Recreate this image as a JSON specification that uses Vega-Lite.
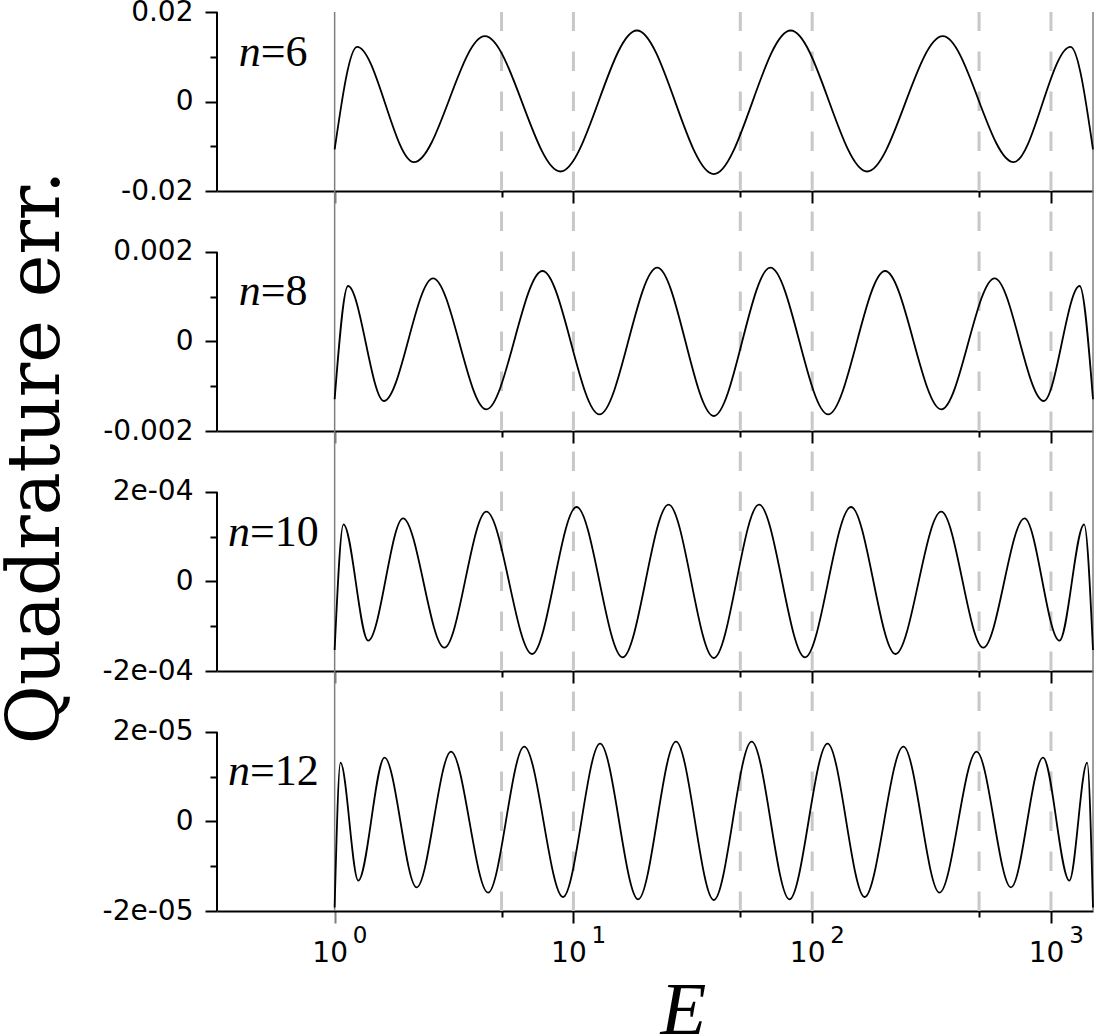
{
  "$schema": "https://vega.github.io/schema/vega-lite/v6.json",
  "background": "white",
  "padding": {"left": 0, "top": -2, "right": 0, "bottom": 0},
  "config": {"view": {"stroke": null}},
  "datasets": {
    "curves": [
      {"n": 6, "E": 1, "err": -0.0107},
      {"n": 6, "E": 1.2416, "err": 0.01222},
      {"n": 6, "E": 2.1478, "err": -0.01356},
      {"n": 6, "E": 4.256, "err": 0.01459},
      {"n": 6, "E": 8.8308, "err": -0.01564},
      {"n": 6, "E": 18.45, "err": 0.01587},
      {"n": 6, "E": 38.73, "err": -0.01624},
      {"n": 6, "E": 81.28, "err": 0.01587},
      {"n": 6, "E": 169.8, "err": -0.01564},
      {"n": 6, "E": 352.4, "err": 0.01459},
      {"n": 6, "E": 698.2, "err": -0.01356},
      {"n": 6, "E": 1207.8, "err": 0.01222},
      {"n": 6, "E": 1500, "err": -0.0107},
      {"n": 8, "E": 1, "err": -0.00129},
      {"n": 8, "E": 1.1376, "err": 0.00124},
      {"n": 8, "E": 1.6069, "err": -0.00133},
      {"n": 8, "E": 2.5823, "err": 0.001412},
      {"n": 8, "E": 4.3152, "err": -0.001516},
      {"n": 8, "E": 7.4216, "err": 0.001575},
      {"n": 8, "E": 12.853, "err": -0.001628},
      {"n": 8, "E": 22.439, "err": 0.00165},
      {"n": 8, "E": 38.73, "err": -0.001665},
      {"n": 8, "E": 66.83, "err": 0.00165},
      {"n": 8, "E": 116.68, "err": -0.001628},
      {"n": 8, "E": 202.1, "err": 0.001575},
      {"n": 8, "E": 347.5, "err": -0.001516},
      {"n": 8, "E": 580.8, "err": 0.001412},
      {"n": 8, "E": 933.3, "err": -0.00133},
      {"n": 8, "E": 1318.3, "err": 0.00124},
      {"n": 8, "E": 1500, "err": -0.00129},
      {"n": 10, "E": 1, "err": -1.53e-4},
      {"n": 10, "E": 1.0889, "err": 1.278e-4},
      {"n": 10, "E": 1.382, "err": -1.322e-4},
      {"n": 10, "E": 1.9341, "err": 1.412e-4},
      {"n": 10, "E": 2.8801, "err": -1.479e-4},
      {"n": 10, "E": 4.3202, "err": 1.56e-4},
      {"n": 10, "E": 6.7146, "err": -1.62e-4},
      {"n": 10, "E": 10.311, "err": 1.665e-4},
      {"n": 10, "E": 16.069, "err": -1.694e-4},
      {"n": 10, "E": 25.032, "err": 1.717e-4},
      {"n": 10, "E": 38.73, "err": -1.709e-4},
      {"n": 10, "E": 59.91, "err": 1.717e-4},
      {"n": 10, "E": 93.33, "err": -1.694e-4},
      {"n": 10, "E": 145.45, "err": 1.665e-4},
      {"n": 10, "E": 223.3, "err": -1.62e-4},
      {"n": 10, "E": 347.1, "err": 1.56e-4},
      {"n": 10, "E": 520.7, "err": -1.479e-4},
      {"n": 10, "E": 775.4, "err": 1.412e-4},
      {"n": 10, "E": 1085.2, "err": -1.322e-4},
      {"n": 10, "E": 1377.2, "err": 1.278e-4},
      {"n": 10, "E": 1500, "err": -1.53e-4},
      {"n": 12, "E": 1, "err": -1.92e-5},
      {"n": 12, "E": 1.058, "err": 1.315e-5},
      {"n": 12, "E": 1.256, "err": -1.322e-5},
      {"n": 12, "E": 1.6181, "err": 1.426e-5},
      {"n": 12, "E": 2.2055, "err": -1.471e-5},
      {"n": 12, "E": 3.0718, "err": 1.56e-5},
      {"n": 12, "E": 4.3924, "err": -1.59e-5},
      {"n": 12, "E": 6.223, "err": 1.672e-5},
      {"n": 12, "E": 9.0448, "err": -1.687e-5},
      {"n": 12, "E": 12.933, "err": 1.739e-5},
      {"n": 12, "E": 18.672, "err": -1.739e-5},
      {"n": 12, "E": 26.891, "err": 1.784e-5},
      {"n": 12, "E": 38.73, "err": -1.754e-5},
      {"n": 12, "E": 55.77, "err": 1.784e-5},
      {"n": 12, "E": 80.32, "err": -1.739e-5},
      {"n": 12, "E": 115.96, "err": 1.739e-5},
      {"n": 12, "E": 165.81, "err": -1.687e-5},
      {"n": 12, "E": 241.0, "err": 1.672e-5},
      {"n": 12, "E": 341.4, "err": -1.59e-5},
      {"n": 12, "E": 488.2, "err": 1.56e-5},
      {"n": 12, "E": 680.0, "err": -1.471e-5},
      {"n": 12, "E": 926.8, "err": 1.426e-5},
      {"n": 12, "E": 1194.0, "err": -1.322e-5},
      {"n": 12, "E": 1417.5, "err": 1.315e-5},
      {"n": 12, "E": 1500, "err": -1.92e-5}
    ],
    "dashed": [{"E": 5}, {"E": 10}, {"E": 50}, {"E": 100}, {"E": 500}, {"E": 1000}],
    "solid": [{"E": 1}, {"E": 1500}],
    "labels": [
      {"n": 6, "sym": "n", "rel": "=6"},
      {"n": 8, "sym": "n", "rel": "=8"},
      {"n": 10, "sym": "n", "rel": "=10"},
      {"n": 12, "sym": "n", "rel": "=12"}
    ],
    "spine": [{"part": "y spine"}]
  },
  "vconcat": [
    {
      "width": 876, "height": 179,
      "resolve": {"axis": {"x": "independent", "y": "independent"}},
      "layer": [
        {"data": {"name": "dashed"}, "mark": {"type": "rule", "color": "#c8c8c8", "strokeWidth": 3, "strokeDash": [19.5, 20.5]},
         "encoding": {"x": {"field": "E", "type": "quantitative", "scale": {"type": "log", "domain": [0.3216, 1500], "nice": false}, "axis": null},
                      "y": {"datum": -0.02, "type": "quantitative", "scale": {"domain": [-0.02, 0.02], "nice": false, "zero": false}, "axis": null}, "y2": {"datum": 0.02}}},
        {"data": {"name": "solid"}, "mark": {"type": "rule", "color": "#7f7f7f", "strokeWidth": 1.5},
         "encoding": {"x": {"field": "E", "type": "quantitative", "scale": {"type": "log", "domain": [0.3216, 1500], "nice": false}, "axis": null},
                      "y": {"datum": -0.02, "type": "quantitative", "axis": null}, "y2": {"datum": 0.02}}},
        {"data": {"name": "curves"}, "transform": [{"filter": "datum.n == 6"}],
         "mark": {"type": "line", "color": "black", "strokeWidth": 1.8, "interpolate": "monotone"},
         "encoding": {
           "x": {"field": "E", "type": "quantitative", "scale": {"type": "log", "domain": [0.3216, 1500], "nice": false},
                 "axis": {"orient": "bottom", "values": [1, 5, 10, 50, 100, 500, 1000], "labels": false, "title": null, "grid": false, "domainColor": "black", "domainWidth": 2, "tickWidth": 2,
                          "tickColor": {"condition": {"test": "datum.value == 1", "value": "#7f7f7f"}, "value": "black"},
                          "tickSize": {"condition": {"test": "datum.value == 5 || datum.value == 50 || datum.value == 500", "value": 6}, "value": 12}}},
           "y": {"field": "err", "type": "quantitative", "scale": {"domain": [-0.02, 0.02], "nice": false, "zero": false},
                 "axis": {"orient": "left", "values": [-0.02, -0.01, 0, 0.01, 0.02], "labelExpr": "datum.value == 0 ? '0' : datum.value > 0.015 ? '0.02' : datum.value < -0.015 ? '-0.02' : ''",
                          "domain": false, "grid": false, "tickColor": "black", "tickWidth": 2,
                          "tickSize": {"condition": {"test": "datum.value != 0 && abs(datum.value) < 0.015", "value": 7}, "value": 12},
                          "labelFont": "DejaVu Sans", "labelFontSize": 28, "labelColor": "black", "labelPadding": 12, "labelOverlap": false, "labelBound": false, "labelFlush": false,
                          "title": "Quadrature err.", "titleFont": "DejaVu Serif", "titleFontSize": 72, "titleFontWeight": "normal", "titleColor": "black",
                          "titleAngle": 270, "titleBaseline": "alphabetic", "titleAlign": "center", "titleX": -158.1, "titleY": 445}}}},
        {"data": {"name": "spine"}, "mark": {"type": "rule", "color": "black", "strokeWidth": 2},
         "encoding": {"x": {"datum": 0.3216, "type": "quantitative", "axis": null}, "y": {"datum": -0.02, "type": "quantitative", "axis": null}, "y2": {"datum": 0.02}}},
        {"data": {"name": "labels"}, "transform": [{"filter": "datum.n == 6"}],
         "mark": {"type": "text", "font": "Liberation Serif", "fontSize": 44, "fontStyle": "italic", "align": "right", "baseline": "alphabetic", "color": "black"},
         "encoding": {"x": {"datum": 0.4906, "type": "quantitative", "axis": null}, "y": {"datum": 0.00789, "type": "quantitative", "axis": null}, "text": {"field": "sym"}}},
        {"data": {"name": "labels"}, "transform": [{"filter": "datum.n == 6"}],
         "mark": {"type": "text", "font": "Liberation Serif", "fontSize": 44, "align": "left", "baseline": "alphabetic", "color": "black"},
         "encoding": {"x": {"datum": 0.4906, "type": "quantitative", "axis": null}, "y": {"datum": 0.00789, "type": "quantitative", "axis": null}, "text": {"field": "rel"}}}
      ]
    },
    {
      "width": 876, "height": 240,
      "resolve": {"axis": {"x": "independent", "y": "independent"}},
      "layer": [
        {"data": {"name": "dashed"}, "mark": {"type": "rule", "color": "#c8c8c8", "strokeWidth": 3, "strokeDash": [19.5, 20.5]},
         "encoding": {"x": {"field": "E", "type": "quantitative", "scale": {"type": "log", "domain": [0.3216, 1500], "nice": false}, "axis": null},
                      "y": {"datum": -0.002, "type": "quantitative", "scale": {"domain": [-0.002, 0.003363], "nice": false, "zero": false}, "axis": null}, "y2": {"datum": 0.003363}}},
        {"data": {"name": "solid"}, "mark": {"type": "rule", "color": "#7f7f7f", "strokeWidth": 1.5},
         "encoding": {"x": {"field": "E", "type": "quantitative", "scale": {"type": "log", "domain": [0.3216, 1500], "nice": false}, "axis": null},
                      "y": {"datum": -0.002, "type": "quantitative", "axis": null}, "y2": {"datum": 0.003363}}},
        {"data": {"name": "curves"}, "transform": [{"filter": "datum.n == 8"}],
         "mark": {"type": "line", "color": "black", "strokeWidth": 1.8, "interpolate": "monotone"},
         "encoding": {
           "x": {"field": "E", "type": "quantitative", "scale": {"type": "log", "domain": [0.3216, 1500], "nice": false},
                 "axis": {"orient": "bottom", "values": [1, 5, 10, 50, 100, 500, 1000], "labels": false, "title": null, "grid": false, "domainColor": "black", "domainWidth": 2, "tickWidth": 2,
                          "tickColor": {"condition": {"test": "datum.value == 1", "value": "#7f7f7f"}, "value": "black"},
                          "tickSize": {"condition": {"test": "datum.value == 5 || datum.value == 50 || datum.value == 500", "value": 6}, "value": 12}}},
           "y": {"field": "err", "type": "quantitative", "scale": {"domain": [-0.002, 0.003363], "nice": false, "zero": false},
                 "axis": {"orient": "left", "values": [-0.002, -0.001, 0, 0.001, 0.002], "labelExpr": "datum.value == 0 ? '0' : datum.value > 0.0015 ? '0.002' : datum.value < -0.0015 ? '-0.002' : ''",
                          "domain": false, "grid": false, "tickColor": "black", "tickWidth": 2,
                          "tickSize": {"condition": {"test": "datum.value != 0 && abs(datum.value) < 0.0015", "value": 7}, "value": 12},
                          "labelFont": "DejaVu Sans", "labelFontSize": 28, "labelColor": "black", "labelPadding": 12, "labelOverlap": false, "labelBound": false, "labelFlush": false, "title": null}}}},
        {"data": {"name": "spine"}, "mark": {"type": "rule", "color": "black", "strokeWidth": 2},
         "encoding": {"x": {"datum": 0.3216, "type": "quantitative", "axis": null}, "y": {"datum": -0.002, "type": "quantitative", "axis": null}, "y2": {"datum": 0.002}}},
        {"data": {"name": "labels"}, "transform": [{"filter": "datum.n == 8"}],
         "mark": {"type": "text", "font": "Liberation Serif", "fontSize": 44, "fontStyle": "italic", "align": "right", "baseline": "alphabetic", "color": "black"},
         "encoding": {"x": {"datum": 0.4906, "type": "quantitative", "axis": null}, "y": {"datum": 0.000816, "type": "quantitative", "axis": null}, "text": {"field": "sym"}}},
        {"data": {"name": "labels"}, "transform": [{"filter": "datum.n == 8"}],
         "mark": {"type": "text", "font": "Liberation Serif", "fontSize": 44, "align": "left", "baseline": "alphabetic", "color": "black"},
         "encoding": {"x": {"datum": 0.4906, "type": "quantitative", "axis": null}, "y": {"datum": 0.000816, "type": "quantitative", "axis": null}, "text": {"field": "rel"}}}
      ]
    },
    {
      "width": 876, "height": 240,
      "resolve": {"axis": {"x": "independent", "y": "independent"}},
      "layer": [
        {"data": {"name": "dashed"}, "mark": {"type": "rule", "color": "#c8c8c8", "strokeWidth": 3, "strokeDash": [19.5, 20.5]},
         "encoding": {"x": {"field": "E", "type": "quantitative", "scale": {"type": "log", "domain": [0.3216, 1500], "nice": false}, "axis": null},
                      "y": {"datum": -0.0002, "type": "quantitative", "scale": {"domain": [-0.0002, 0.0003363], "nice": false, "zero": false}, "axis": null}, "y2": {"datum": 0.0003363}}},
        {"data": {"name": "solid"}, "mark": {"type": "rule", "color": "#7f7f7f", "strokeWidth": 1.5},
         "encoding": {"x": {"field": "E", "type": "quantitative", "scale": {"type": "log", "domain": [0.3216, 1500], "nice": false}, "axis": null},
                      "y": {"datum": -0.0002, "type": "quantitative", "axis": null}, "y2": {"datum": 0.0003363}}},
        {"data": {"name": "curves"}, "transform": [{"filter": "datum.n == 10"}],
         "mark": {"type": "line", "color": "black", "strokeWidth": 1.8, "interpolate": "monotone"},
         "encoding": {
           "x": {"field": "E", "type": "quantitative", "scale": {"type": "log", "domain": [0.3216, 1500], "nice": false},
                 "axis": {"orient": "bottom", "values": [1, 5, 10, 50, 100, 500, 1000], "labels": false, "title": null, "grid": false, "domainColor": "black", "domainWidth": 2, "tickWidth": 2,
                          "tickColor": {"condition": {"test": "datum.value == 1", "value": "#7f7f7f"}, "value": "black"},
                          "tickSize": {"condition": {"test": "datum.value == 5 || datum.value == 50 || datum.value == 500", "value": 6}, "value": 12}}},
           "y": {"field": "err", "type": "quantitative", "scale": {"domain": [-0.0002, 0.0003363], "nice": false, "zero": false},
                 "axis": {"orient": "left", "values": [-0.0002, -0.0001, 0, 0.0001, 0.0002], "labelExpr": "datum.value == 0 ? '0' : datum.value > 0.00015 ? '2e-04' : datum.value < -0.00015 ? '-2e-04' : ''",
                          "domain": false, "grid": false, "tickColor": "black", "tickWidth": 2,
                          "tickSize": {"condition": {"test": "datum.value != 0 && abs(datum.value) < 0.00015", "value": 7}, "value": 12},
                          "labelFont": "DejaVu Sans", "labelFontSize": 28, "labelColor": "black", "labelPadding": 12, "labelOverlap": false, "labelBound": false, "labelFlush": false, "title": null}}}},
        {"data": {"name": "spine"}, "mark": {"type": "rule", "color": "black", "strokeWidth": 2},
         "encoding": {"x": {"datum": 0.3216, "type": "quantitative", "axis": null}, "y": {"datum": -0.0002, "type": "quantitative", "axis": null}, "y2": {"datum": 0.0002}}},
        {"data": {"name": "labels"}, "transform": [{"filter": "datum.n == 10"}],
         "mark": {"type": "text", "font": "Liberation Serif", "fontSize": 44, "fontStyle": "italic", "align": "right", "baseline": "alphabetic", "color": "black"},
         "encoding": {"x": {"datum": 0.4416, "type": "quantitative", "axis": null}, "y": {"datum": 0.0000800, "type": "quantitative", "axis": null}, "text": {"field": "sym"}}},
        {"data": {"name": "labels"}, "transform": [{"filter": "datum.n == 10"}],
         "mark": {"type": "text", "font": "Liberation Serif", "fontSize": 44, "align": "left", "baseline": "alphabetic", "color": "black"},
         "encoding": {"x": {"datum": 0.4416, "type": "quantitative", "axis": null}, "y": {"datum": 0.0000800, "type": "quantitative", "axis": null}, "text": {"field": "rel"}}}
      ]
    },
    {
      "width": 876, "height": 240,
      "resolve": {"axis": {"x": "independent", "y": "independent"}},
      "layer": [
        {"data": {"name": "dashed"}, "mark": {"type": "rule", "color": "#c8c8c8", "strokeWidth": 3, "strokeDash": [19.5, 20.5]},
         "encoding": {"x": {"field": "E", "type": "quantitative", "scale": {"type": "log", "domain": [0.3216, 1500], "nice": false},
                            "axis": {"orient": "bottom", "values": [1, 10, 100, 1000], "labelExpr": "datum.value == 1 ? '0' : datum.value == 10 ? '1' : datum.value == 100 ? '2' : '3'",
                                     "ticks": false, "domain": false, "grid": false, "title": null, "labelFont": "DejaVu Sans", "labelFontSize": 23, "labelColor": "black",
                                     "labelOffset": 25, "labelBaseline": "alphabetic", "labelPadding": 31, "labelOverlap": false, "labelFlush": false, "labelBound": false}},
                      "y": {"datum": -0.00002, "type": "quantitative", "scale": {"domain": [-0.00002, 0.00003363], "nice": false, "zero": false}, "axis": null}, "y2": {"datum": 0.00003363}}},
        {"data": {"name": "solid"}, "mark": {"type": "rule", "color": "#7f7f7f", "strokeWidth": 1.5},
         "encoding": {"x": {"field": "E", "type": "quantitative", "scale": {"type": "log", "domain": [0.3216, 1500], "nice": false}, "axis": null},
                      "y": {"datum": -0.00002, "type": "quantitative", "axis": null}, "y2": {"datum": 0.00003363}}},
        {"data": {"name": "curves"}, "transform": [{"filter": "datum.n == 12"}],
         "mark": {"type": "line", "color": "black", "strokeWidth": 1.8, "interpolate": "monotone"},
         "encoding": {
           "x": {"field": "E", "type": "quantitative", "scale": {"type": "log", "domain": [0.3216, 1500], "nice": false},
                 "axis": {"orient": "bottom", "values": [1, 5, 10, 50, 100, 500, 1000],
                          "labelExpr": "datum.value == 1 || datum.value == 10 || datum.value == 100 || datum.value == 1000 ? '10' : ''",
                          "labelFont": "DejaVu Sans", "labelFontSize": 28, "labelColor": "black", "labelOffset": -5, "labelBaseline": "alphabetic", "labelPadding": 38.7,
                          "labelOverlap": false, "labelFlush": false, "labelBound": false,
                          "grid": false, "domainColor": "black", "domainWidth": 2, "tickWidth": 2,
                          "tickColor": {"condition": {"test": "datum.value == 1", "value": "#7f7f7f"}, "value": "black"},
                          "tickSize": {"condition": {"test": "datum.value == 5 || datum.value == 50 || datum.value == 500", "value": 6}, "value": 12},
                          "title": "E", "titleFont": "Liberation Serif", "titleFontStyle": "italic", "titleFontSize": 75, "titleFontWeight": "normal", "titleColor": "black",
                          "titleX": 466, "titleY": 122, "titleBaseline": "alphabetic", "titleAlign": "center"}},
           "y": {"field": "err", "type": "quantitative", "scale": {"domain": [-0.00002, 0.00003363], "nice": false, "zero": false},
                 "axis": {"orient": "left", "values": [-0.00002, -0.00001, 0, 0.00001, 0.00002], "labelExpr": "datum.value == 0 ? '0' : datum.value > 0.000015 ? '2e-05' : datum.value < -0.000015 ? '-2e-05' : ''",
                          "domain": false, "grid": false, "tickColor": "black", "tickWidth": 2,
                          "tickSize": {"condition": {"test": "datum.value != 0 && abs(datum.value) < 0.000015", "value": 7}, "value": 12},
                          "labelFont": "DejaVu Sans", "labelFontSize": 28, "labelColor": "black", "labelPadding": 12, "labelOverlap": false, "labelBound": false, "labelFlush": false, "title": null}}}},
        {"data": {"name": "spine"}, "mark": {"type": "rule", "color": "black", "strokeWidth": 2},
         "encoding": {"x": {"datum": 0.3216, "type": "quantitative", "axis": null}, "y": {"datum": -0.00002, "type": "quantitative", "axis": null}, "y2": {"datum": 0.00002}}},
        {"data": {"name": "labels"}, "transform": [{"filter": "datum.n == 12"}],
         "mark": {"type": "text", "font": "Liberation Serif", "fontSize": 44, "fontStyle": "italic", "align": "right", "baseline": "alphabetic", "color": "black"},
         "encoding": {"x": {"datum": 0.4416, "type": "quantitative", "axis": null}, "y": {"datum": 0.00000816, "type": "quantitative", "axis": null}, "text": {"field": "sym"}}},
        {"data": {"name": "labels"}, "transform": [{"filter": "datum.n == 12"}],
         "mark": {"type": "text", "font": "Liberation Serif", "fontSize": 44, "align": "left", "baseline": "alphabetic", "color": "black"},
         "encoding": {"x": {"datum": 0.4416, "type": "quantitative", "axis": null}, "y": {"datum": 0.00000816, "type": "quantitative", "axis": null}, "text": {"field": "rel"}}}
      ]
    }
  ],
  "spacing": 0,
  "bounds": "flush"
}
